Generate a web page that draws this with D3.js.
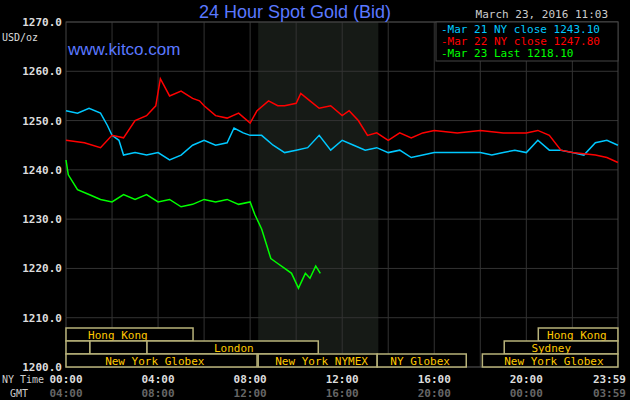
<!DOCTYPE html><html><head><meta charset="utf-8"><script src="https://cdn.jsdelivr.net/npm/d3@7"></script>
<style>body{margin:0;background:#000}svg{display:block}</style></head><body><svg id="c" width="630" height="400"></svg>
<script>
const yTicks=[1200,1210,1220,1230,1240,1250,1260,1270];
const xTickHours=[0,4,8,12,16,20,23.983];
const nyLabels=["00:00","04:00","08:00","12:00","16:00","20:00","23:59"];
const gmtLabels=["04:00","08:00","12:00","16:00","20:00","00:00","03:59"];
const gridHours=[2,4,6,8,10,12,14,16,18,20,22];
const shadeHours=[8.35,13.57];
const mar21=[[0,1252],[0.5,1251.5],[1,1252.5],[1.5,1251.5],[1.8,1249],[2,1247],[2.3,1246],[2.5,1243],[3,1243.5],[3.5,1243],[4,1243.5],[4.5,1242],[5,1243],[5.5,1245],[6,1246],[6.5,1245],[7,1245.5],[7.3,1248.5],[7.7,1247.5],[8,1247],[8.5,1247],[9,1245],[9.5,1243.5],[10,1244],[10.5,1244.5],[11,1247],[11.5,1244],[12,1246],[12.5,1245],[13,1244],[13.5,1244.5],[14,1243.5],[14.5,1244],[15,1242.5],[15.5,1243],[16,1243.5],[17,1243.5],[18,1243.5],[18.5,1243],[19,1243.5],[19.5,1244],[20,1243.5],[20.5,1246],[21,1244],[21.5,1244],[22,1243.5],[22.5,1243],[23,1245.5],[23.5,1246],[23.98,1245]];
const mar22=[[0,1246],[0.8,1245.5],[1.5,1244.5],[2,1247],[2.5,1246.5],[3,1250],[3.5,1251],[3.9,1253],[4.1,1258.5],[4.5,1255],[5,1256],[5.5,1254.5],[5.8,1254],[6,1253],[6.5,1251],[7,1250.5],[7.5,1251.5],[8,1249.5],[8.3,1252],[8.8,1254],[9.2,1253],[9.5,1253],[10,1253.5],[10.2,1255.5],[10.6,1254],[11,1252.5],[11.5,1253],[12,1251],[12.3,1252],[12.7,1250],[13.1,1247],[13.5,1247.5],[14,1246],[14.5,1247.5],[15,1246.5],[15.5,1247.5],[16,1248],[17,1247.5],[18,1248],[19,1247.5],[20,1247.5],[20.5,1248],[21,1247],[21.5,1244],[22,1243.5],[23,1243],[23.5,1242.5],[23.98,1241.5]];
const mar23=[[0,1242],[0.1,1239],[0.5,1236],[1,1235],[1.5,1234],[2,1233.5],[2.5,1235],[3,1234],[3.5,1235],[4,1233.5],[4.5,1234],[5,1232.5],[5.5,1233],[6,1234],[6.5,1233.5],[7,1234],[7.5,1233],[8,1233.5],[8.2,1231],[8.5,1228],[8.7,1225],[8.9,1222],[9.2,1221],[9.5,1220],[9.8,1219],[10.1,1216],[10.4,1219],[10.6,1218],[10.85,1220.5],[11.05,1219]];
const series=[{d:mar21,c:"#00c8ff",label:"Mar 21 NY close 1243.10"},{d:mar22,c:"#ff0000",label:"Mar 22 NY close 1247.80"},{d:mar23,c:"#00ff00",label:"Mar 23 Last 1218.10"}];
const sessions=[
 {row:0,a:0,b:5.52,t:"Hong Kong",tx:0.96},{row:0,a:20.52,b:23.98,t:"Hong Kong",tx:20.9},
 {row:1,a:0,b:1.04,t:""},{row:1,a:1.04,b:3.52,t:""},{row:1,a:3.52,b:10.96,t:"London",tx:6.43},{row:1,a:19.04,b:23.98,t:"Sydney",tx:20.22},
 {row:2,a:0,b:8.3,t:"New York Globex",tx:1.7},{row:2,a:8.35,b:13.52,t:"New York NYMEX",tx:9.09},{row:2,a:13.52,b:17.39,t:"NY Globex",tx:14.09},{row:2,a:18.09,b:23.98,t:"New York Globex",tx:19.04}];

const svg=d3.select("#c");
const x=d3.scaleLinear().domain([0,23.983]).range([66,618]);
const y=d3.scaleLinear().domain([1200,1270]).range([367,22]);
const mono="'DejaVu Sans Mono',monospace";
svg.append("rect").attr("x",x(shadeHours[0])).attr("width",x(shadeHours[1])-x(shadeHours[0])).attr("y",22).attr("height",345).attr("fill","#161a16");
svg.selectAll(".vg").data(gridHours).join("line").attr("x1",d=>x(d)).attr("x2",d=>x(d)).attr("y1",22).attr("y2",367).attr("stroke","#333");
svg.selectAll(".hg").data(yTicks).join("line").attr("x1",66).attr("x2",618).attr("y1",d=>y(d)).attr("y2",d=>y(d)).attr("stroke","#333");
svg.append("rect").attr("x",66).attr("y",22).attr("width",552).attr("height",345).attr("fill","none").attr("stroke","#444");
svg.selectAll(".yt").data(yTicks).join("text").attr("x",62).attr("y",d=>y(d)+4).attr("text-anchor","end").attr("fill","#ddd").attr("font-family",mono).attr("font-size",11).attr("font-weight","bold").text(d=>d.toFixed(1));
svg.append("text").attr("x",2).attr("y",41).attr("fill","#ddd").attr("font-family",mono).attr("font-size",10).text("USD/oz");
const rowY=[328,341,354];
const sg=svg.append("g");
sessions.forEach(s=>{
 sg.append("rect").attr("x",x(s.a)).attr("y",rowY[s.row]).attr("width",x(s.b)-x(s.a)).attr("height",13).attr("fill","#000").attr("stroke","#b8b27a").attr("stroke-width",1.5);
 if(s.t) sg.append("text").attr("x",x(s.tx)).attr("y",rowY[s.row]+11).attr("fill","#ffc800").attr("font-family",mono).attr("font-size",11).text(s.t);
});
const line=d3.line().x(d=>x(d[0])).y(d=>y(d[1])).curve(d3.curveLinear);
series.forEach(s=>svg.append("path").attr("d",line(s.d)).attr("fill","none").attr("stroke",s.c).attr("stroke-width",1.5));
const anc=(d,i)=>i===xTickHours.length-1?"end":"middle";
svg.selectAll(".xt").data(xTickHours).join("text").attr("x",(d,i)=>i===6?626:x(d)).attr("y",383).attr("text-anchor",anc).attr("fill","#ddd").attr("font-family",mono).attr("font-size",11).attr("font-weight","bold").text((d,i)=>nyLabels[i]);
svg.selectAll(".gt").data(xTickHours).join("text").attr("x",(d,i)=>i===6?626:x(d)).attr("y",397).attr("text-anchor",anc).attr("fill","#666").attr("font-family",mono).attr("font-size",11).attr("font-weight","bold").text((d,i)=>gmtLabels[i]);
svg.append("text").attr("x",2).attr("y",383).attr("fill","#ccc").attr("font-family",mono).attr("font-size",10).text("NY Time");
svg.append("text").attr("x",10).attr("y",397).attr("fill","#ccc").attr("font-family",mono).attr("font-size",10).text("GMT");
svg.append("text").attr("x",295).attr("y",18).attr("text-anchor","middle").attr("fill","#5a78ff").attr("font-family","'Liberation Sans',Arial").attr("font-size",18).text("24 Hour Spot Gold (Bid)");
svg.append("text").attr("x",68).attr("y",55).attr("fill","#5a78ff").attr("font-family","'Liberation Sans',Arial").attr("font-size",17).text("www.kitco.com");
svg.append("text").attr("x",608).attr("y",18).attr("text-anchor","end").attr("fill","#ccc").attr("font-family",mono).attr("font-size",11).text("March 23, 2016 11:03");
svg.append("rect").attr("x",436).attr("y",22).attr("width",182).attr("height",39).attr("fill","#000").attr("stroke","#444");
series.forEach((s,i)=>{
 svg.append("text").attr("x",441).attr("y",33+i*12).attr("fill",s.c).attr("font-family",mono).attr("font-size",11).text("-"+s.label);
});
</script></body></html>
